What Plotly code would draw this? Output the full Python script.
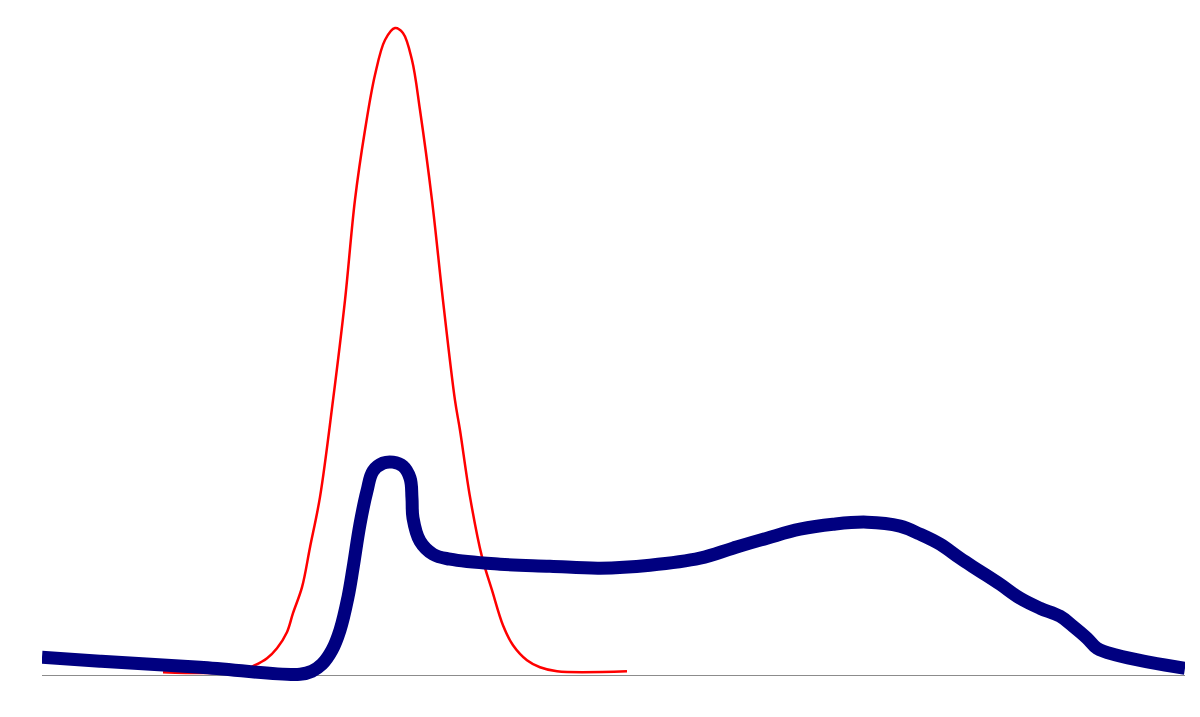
import plotly.graph_objects as go

# Red series (thin peak)
red_x = [10.59, 17.32, 18.64, 19.69, 20.56, 21.43, 21.96, 22.75, 23.45, 24.32, 25.46, 26.51,
         27.38, 28.26, 29.13, 30.01, 30.88, 31.58, 32.37, 33.07, 34.12, 35.08, 36.13, 36.57,
         37.45, 38.50, 39.37, 40.33, 41.21, 42.43, 43.57, 45.06, 51.18]
red_y = [0.46, 0.61, 1.53, 2.60, 4.12, 6.56, 9.47, 13.44, 19.54, 27.18, 41.98, 57.25,
         72.52, 83.21, 91.60, 96.95, 98.78, 98.02, 93.89, 86.26, 72.52, 57.25, 41.98, 37.40,
         27.18, 18.02, 12.98, 7.63, 4.58, 2.29, 1.22, 0.61, 0.61]

# Navy series (thick)
navy_x = [0.0, 5.07, 13.82, 22.57, 23.62, 24.50, 25.37, 26.07, 26.77, 27.21, 27.82, 28.43,
          28.96, 29.83, 30.71, 31.58, 32.20, 32.37, 32.46, 33.07, 34.21, 35.70, 40.07, 44.44,
          48.82, 53.19, 57.57, 60.45, 63.43, 66.32, 69.20, 72.18, 75.07, 76.82, 78.57, 80.31,
          82.06, 83.81, 85.56, 87.31, 89.06, 90.20, 91.43, 92.30, 94.05, 96.94, 100.0]
navy_y = [2.75, 2.14, 1.22, 0.15, 0.61, 1.68, 3.82, 6.87, 11.91, 16.34, 23.05, 28.09,
          31.15, 32.37, 32.52, 31.91, 30.08, 27.02, 23.97, 20.46, 18.47, 17.71, 16.95, 16.64,
          16.34, 16.79, 17.86, 19.39, 20.92, 22.29, 23.05, 23.36, 22.75, 21.53, 20.00, 17.86,
          15.88, 13.89, 11.76, 10.23, 9.01, 7.48, 5.65, 4.12, 3.05, 1.98, 1.07]

fig = go.Figure()
fig.add_trace(go.Scatter(x=red_x, y=red_y, mode="lines",
                         line=dict(color="#ff0000", width=2.5, shape="spline", smoothing=1.0),
                         hoverinfo="skip", showlegend=False))
fig.add_trace(go.Scatter(x=navy_x, y=navy_y, mode="lines",
                         line=dict(color="#000080", width=13, shape="spline", smoothing=1.1),
                         hoverinfo="skip", showlegend=False))

fig.update_layout(
    width=1192, height=709,
    margin=dict(l=34, r=15, t=12, b=9),
    paper_bgcolor="white", plot_bgcolor="white",
    xaxis=dict(range=[0, 100], showgrid=False, zeroline=False, showticklabels=False,
               showline=False, ticks=""),
    yaxis=dict(range=[-5, 100], showgrid=False, zeroline=True, zerolinecolor="#8c8c8c",
               zerolinewidth=1.2, showticklabels=False, showline=False, ticks=""),
)

fig.write_html("out.html")
